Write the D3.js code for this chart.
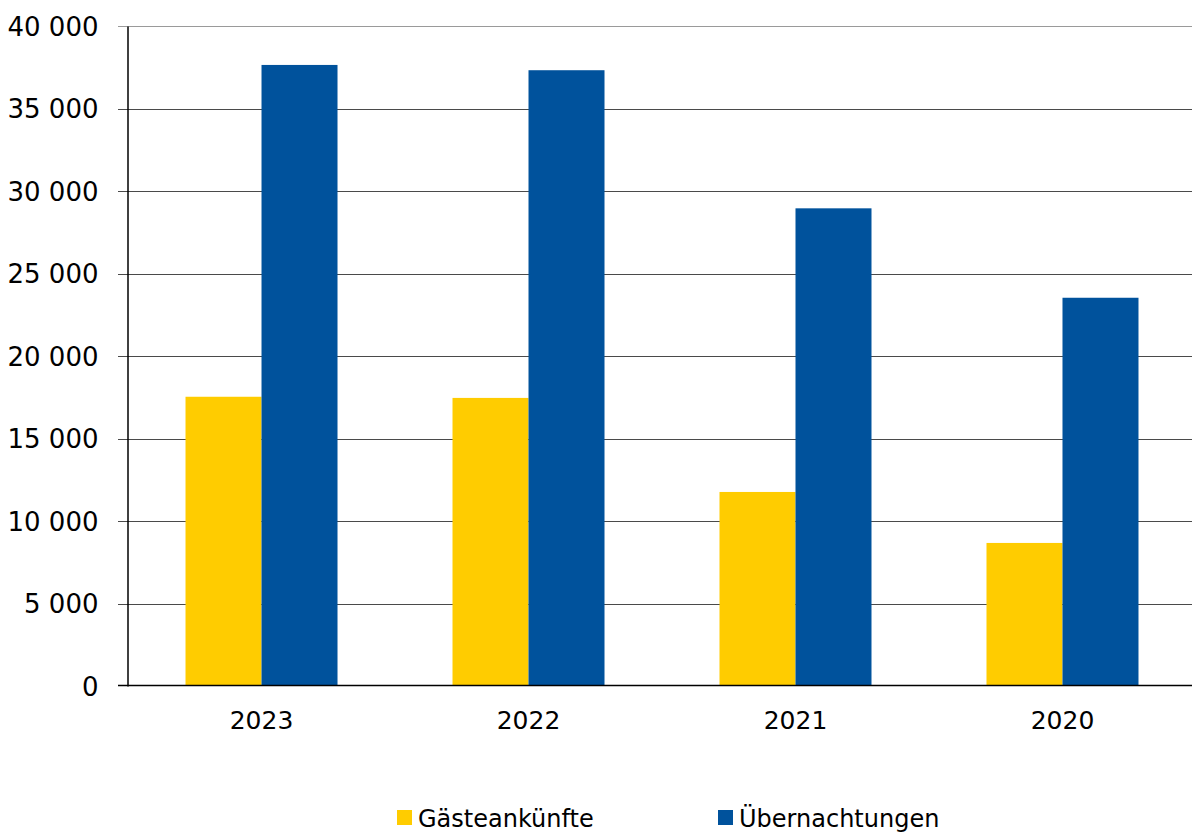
<!DOCTYPE html>
<html lang="de">
<head>
    <meta charset="UTF-8">
    <title>Gästeankünfte und Übernachtungen</title>
    <script src="https://d3js.org/d3.v7.min.js"></script>
    <style>
        body { margin: 0; background: #fff; }
        svg text { font-family: "DejaVu Sans", sans-serif; fill: #000; }
    </style>
</head>
<body>
    <div id="chart"></div>
    <script>
        // Daten
        let jahre = ["2023", "2022", "2021", "2020"];
        let reihen = ["Gästeankünfte", "Übernachtungen"];
        let gaesteankuenfte = [17530, 17460, 11760, 8670];
        let uebernachtungen = [37640, 37320, 28950, 23530];
        let yTicks = [0, 5000, 10000, 15000, 20000, 25000, 30000, 35000, 40000];
        let farben = ["#FFCC00", "#00529C"];

        let width = 1192;
        let height = 832;
        let pLeft = 128, pRight = 1192, pTop = 26, pBottom = 686;

        let svg = d3.select("#chart").append("svg")
            .attr("width", width)
            .attr("height", height);

        // Gruppen laufen etwas über den rechten Rand hinaus (Schrittweite 267)
        let x = d3.scaleBand()
            .domain(jahre)
            .range([pLeft, pLeft + 4 * 267])
            .paddingInner(0.4307)
            .paddingOuter(0.2154);

        let xSub = d3.scaleBand()
            .domain(reihen)
            .range([0, x.bandwidth()]);

        let y = d3.scaleLinear()
            .domain([0, 40000])
            .range([pBottom, pTop]);

        let fmt = v => d3.format(",")(v).replace(/,/g, " ");

        // Gitterlinien
        svg.append("g")
            .selectAll("line")
            .data(yTicks.filter(d => d > 0))
            .enter().append("line")
            .attr("x1", pLeft - 10)
            .attr("x2", pRight)
            .attr("y1", d => Math.round(y(d)) + 0.5)
            .attr("y2", d => Math.round(y(d)) + 0.5)
            .attr("stroke", d => d === 40000 ? "#9a9a9a" : "#4a4a4a")
            .attr("stroke-width", 1.2);

        // Balken
        let daten = jahre.map((j, i) => ({ jahr: j, werte: [gaesteankuenfte[i], uebernachtungen[i]] }));

        svg.append("g")
            .selectAll("g")
            .data(daten)
            .enter().append("g")
            .attr("transform", d => "translate(" + x(d.jahr) + ",0)")
            .selectAll("rect")
            .data(d => d.werte.map((v, k) => ({ reihe: reihen[k], wert: v, k: k })))
            .enter().append("rect")
            .attr("x", d => xSub(d.reihe))
            .attr("width", xSub.bandwidth())
            .attr("y", d => y(d.wert))
            .attr("height", d => y(0) - y(d.wert))
            .attr("fill", d => farben[d.k]);

        // Y-Achse
        let yAxis = svg.append("g")
            .attr("transform", "translate(" + (pLeft - 0.5) + ",0)")
            .call(d3.axisLeft(y).tickValues(yTicks).tickFormat(fmt).tickSize(0).tickPadding(29));
        yAxis.select(".domain").attr("stroke", "#000").attr("stroke-width", 1.5);
        yAxis.selectAll("text").style("font-size", "26px").attr("dy", "0.36em");

        // X-Achse
        let xAxis = svg.append("g")
            .attr("transform", "translate(0," + (pBottom - 0.5) + ")")
            .call(d3.axisBottom(x).tickSize(0).tickPadding(26));
        xAxis.select(".domain").remove();
        xAxis.selectAll("text").style("font-size", "25px");
        svg.append("line")
            .attr("x1", pLeft - 10).attr("x2", pRight)
            .attr("y1", pBottom - 0.5).attr("y2", pBottom - 0.5)
            .attr("stroke", "#000").attr("stroke-width", 1.5);

        // Legende
        let legendePos = [397, 718];
        let legende = svg.append("g")
            .selectAll("g")
            .data(reihen)
            .enter().append("g")
            .attr("transform", (d, i) => "translate(" + legendePos[i] + ",810)");
        legende.append("rect")
            .attr("width", 15).attr("height", 15)
            .attr("fill", (d, i) => farben[i]);
        legende.append("text")
            .attr("x", 21).attr("y", 8)
            .attr("dy", "0.36em")
            .style("font-size", "24px")
            .text(d => d);
    </script>
</body>
</html>
